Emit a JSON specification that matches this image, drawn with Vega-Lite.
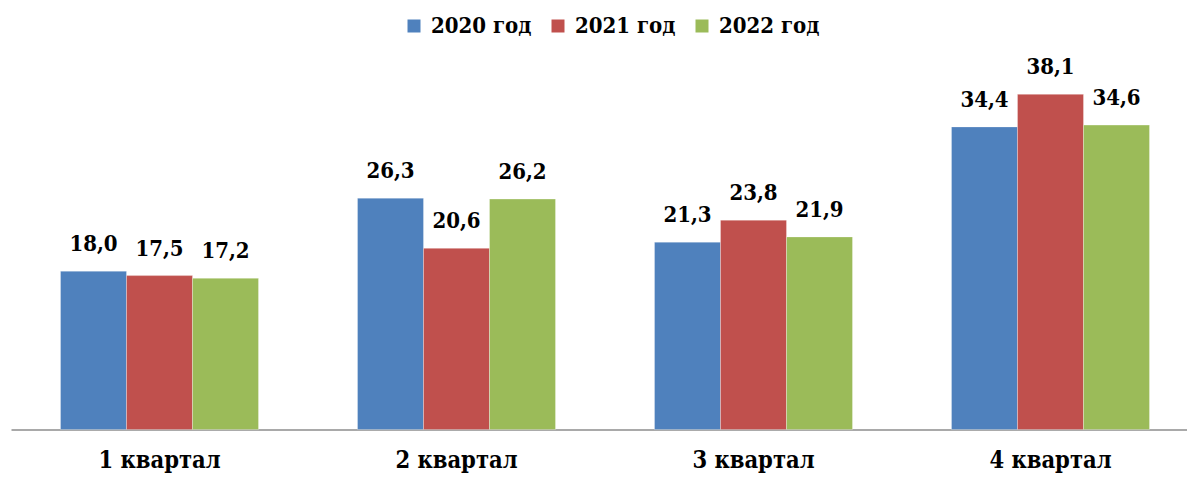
{
  "$schema": "https://vega.github.io/schema/vega-lite/v6.json",
  "width": 1176,
  "height": 369.6,
  "autosize": {"type": "none"},
  "padding": {"left": 11, "top": 60, "right": 0, "bottom": 47},
  "background": "white",
  "config": {
    "view": {"stroke": null},
    "locale": {"number": {"decimal": ",", "thousands": " ", "grouping": [3], "currency": ["", ""]}},
    "font": "DejaVu Serif Condensed, DejaVu Serif"
  },
  "data": {
    "values": [
      {"q": "1 квартал", "year": "2020 год", "v": 18.0},
      {"q": "1 квартал", "year": "2021 год", "v": 17.5},
      {"q": "1 квартал", "year": "2022 год", "v": 17.2},
      {"q": "2 квартал", "year": "2020 год", "v": 26.3},
      {"q": "2 квартал", "year": "2021 год", "v": 20.6},
      {"q": "2 квартал", "year": "2022 год", "v": 26.2},
      {"q": "3 квартал", "year": "2020 год", "v": 21.3},
      {"q": "3 квартал", "year": "2021 год", "v": 23.8},
      {"q": "3 квартал", "year": "2022 год", "v": 21.9},
      {"q": "4 квартал", "year": "2020 год", "v": 34.4},
      {"q": "4 квартал", "year": "2021 год", "v": 38.1},
      {"q": "4 квартал", "year": "2022 год", "v": 34.6}
    ]
  },
  "encoding": {
    "x": {
      "field": "q", "type": "nominal",
      "scale": {"range": [0, 1188], "paddingInner": 0.3333, "paddingOuter": 0.16667},
      "axis": {
        "title": null, "labelAngle": 0, "ticks": false,
        "domainColor": "#8c8c8c", "domainWidth": 1.5,
        "labelFont": "DejaVu Serif Condensed, DejaVu Serif", "labelFontWeight": "bold", "labelFontSize": 23.5,
        "labelColor": "black", "labelPadding": 19
      }
    },
    "xOffset": {"field": "year", "type": "nominal", "scale": {"paddingInner": 0, "paddingOuter": 0}},
    "y": {"field": "v", "type": "quantitative", "scale": {"domain": [0, 42]}, "axis": null}
  },
  "layer": [
    {
      "mark": {"type": "bar", "stroke": "white", "strokeWidth": 0.5, "strokeOpacity": 0.6},
      "encoding": {
        "color": {
          "field": "year", "type": "nominal",
          "scale": {"domain": ["2020 год", "2021 год", "2022 год"], "range": ["#4F81BD", "#C0504D", "#9BBB59"]},
          "legend": {
            "title": null, "orient": "none", "direction": "horizontal",
            "legendX": 392, "legendY": -45,
            "symbolType": "square", "symbolSize": 169, "symbolStrokeWidth": 0,
            "labelFont": "DejaVu Serif Condensed, DejaVu Serif", "labelFontWeight": "bold", "labelFontSize": 22,
            "labelColor": "black", "labelOffset": 6, "columnPadding": 15
          }
        }
      }
    },
    {
      "mark": {"type": "text", "baseline": "alphabetic", "dy": -20, "fontSize": 22, "fontWeight": "bold", "font": "DejaVu Serif Condensed, DejaVu Serif", "color": "black"},
      "encoding": {
        "text": {"field": "v", "type": "quantitative", "format": ".1f"}
      }
    }
  ]
}
